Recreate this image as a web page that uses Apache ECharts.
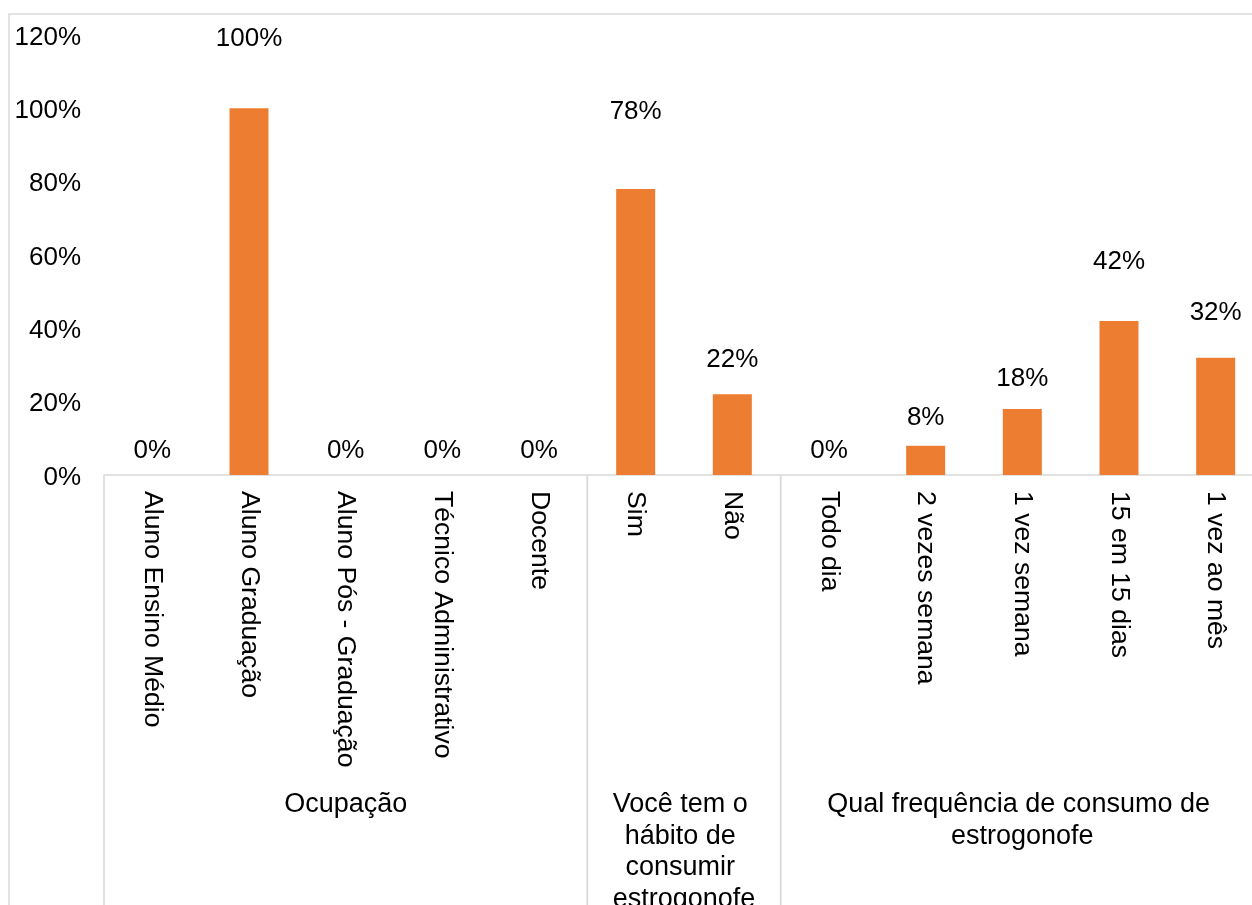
<!DOCTYPE html>
<html>
<head>
<meta charset="utf-8">
<script src="https://cdn.jsdelivr.net/npm/echarts@6/dist/echarts.min.js"></script>
<style>
  html, body { margin: 0; padding: 0; background: #fff; }
  #chart { width: 1252px; height: 905px; }
</style>
</head>
<body>
<div id="chart"></div>
<script>
// Survey answers, in percent
const categories = [
  'Aluno Ensino Médio', 'Aluno Graduação', 'Aluno Pós - Graduação',
  'Técnico Administrativo', 'Docente',
  'Sim', 'Não',
  'Todo dia', '2 vezes semana', '1 vez semana', '15 em 15 dias', '1 vez ao mês'
];
const values = [0, 100, 0, 0, 0, 78, 22, 0, 8, 18, 42, 32];

// Question groups: first and last category index of each
const groupNames = [
  'Ocupação',
  'Você tem o hábito de consumir estrogonofe',
  'Qual frequência de consumo de estrogonofe'
];
const groupStart = [0, 5, 7];
const groupEnd = [4, 6, 11];

// Y-axis ticks
const yTicks = [0, 20, 40, 60, 80, 100, 120];

// Gap between each bar top and its value label (px)
const labelGap = [11, 57, 11, 11, 11, 64, 22, 11, 14.5, 17.5, 46, 31.5];

const FONT = '"Liberation Sans", Arial, sans-serif';
const LINE = '#d9d9d9';

const chart = echarts.init(document.getElementById('chart'));

chart.setOption({
  backgroundColor: '#ffffff',
  animation: false,
  graphic: [{
    type: 'rect',
    shape: { x: 9, y: 14, width: 1400, height: 1000 },
    style: { fill: null, stroke: LINE, lineWidth: 1.5 },
    silent: true,
    z: -1
  }],
  grid: {
    left: 104, top: 35, width: 1160, height: 440,
    containLabel: false,
    outerBoundsMode: 'none'
  },
  xAxis: {
    type: 'category',
    data: categories,
    boundaryGap: true,
    axisLine: { show: true, lineStyle: { color: LINE, width: 1.5 } },
    axisTick: { show: false },
    axisLabel: {
      rotate: -90,
      margin: 16,
      interval: 0,
      hideOverlap: false,
      color: '#000',
      fontFamily: FONT,
      fontSize: 26.6
    },
    splitLine: { show: false }
  },
  yAxis: {
    type: 'value',
    min: yTicks[0],
    max: yTicks[yTicks.length - 1],
    interval: yTicks[1] - yTicks[0],
    axisLine: { show: false },
    axisTick: { show: false },
    splitLine: { show: false },
    axisLabel: {
      margin: 23,
      verticalAlign: 'top',
      lineHeight: 5,
      color: '#000',
      fontFamily: FONT,
      fontSize: 26,
      formatter: '{value}%'
    }
  },
  series: [
    {
      type: 'bar',
      barWidth: 39,
      itemStyle: { color: '#ED7D31' },
      data: values.map((v, i) => ({
        value: v,
        label: { distance: labelGap[i] }
      })),
      label: {
        show: true,
        position: 'top',
        color: '#000',
        fontFamily: FONT,
        fontSize: 26,
        lineHeight: 26,
        formatter: p => p.value + '%'
      }
    },
    {
      // Question group separators and captions under the category labels
      type: 'custom',
      silent: true,
      clip: false,
      data: groupStart.map(s => [s, 0]),
      encode: { x: 0, y: 1 },
      renderItem(params, api) {
        const i = params.dataIndex;
        const a = api.coord([groupStart[i], 0]);
        const b = api.coord([groupEnd[i], 0]);
        const band = api.size([1, 0])[0];
        const x0 = a[0] - band / 2;
        const x1 = b[0] + band / 2;
        const y = a[1];
        return {
          type: 'group',
          children: [
            {
              type: 'line',
              shape: { x1: x0, y1: y, x2: x0, y2: y + 700 },
              style: { stroke: LINE, lineWidth: 1.5 }
            },
            {
              type: 'line',
              shape: { x1: x1, y1: y, x2: x1, y2: y + 700 },
              style: { stroke: LINE, lineWidth: 1.5 }
            },
            {
              type: 'text',
              x: (x0 + x1) / 2,
              y: y + 314,
              style: {
                text: groupNames[i],
                width: x1 - x0 - 12,
                overflow: 'break',
                align: 'center',
                verticalAlign: 'top',
                fontFamily: FONT,
                fontSize: 27,
                lineHeight: 31.5,
                fill: '#000'
              }
            }
          ]
        };
      }
    }
  ]
});
</script>
</body>
</html>
